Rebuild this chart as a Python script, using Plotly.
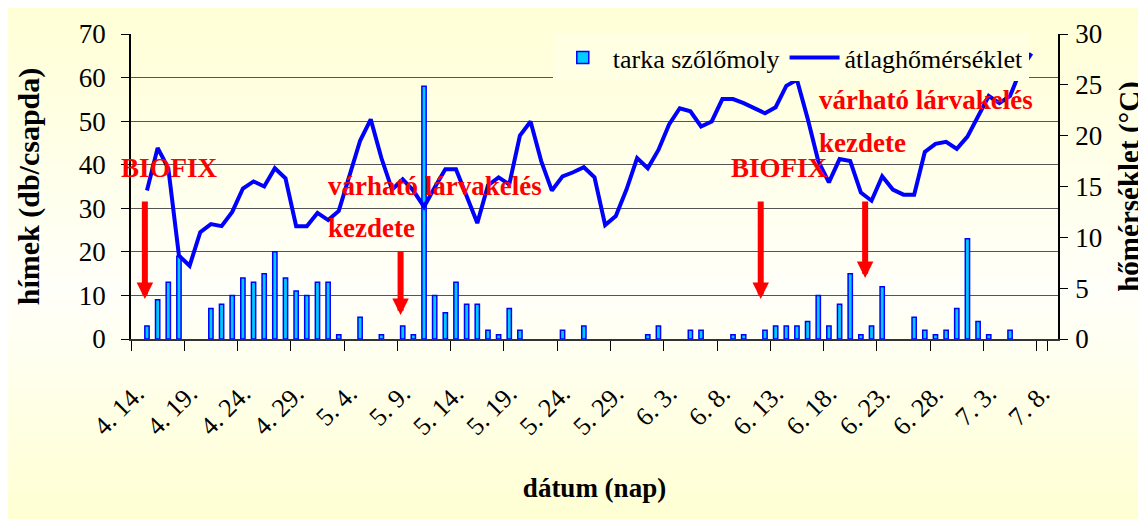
import base64
import struct
import zlib

import plotly.graph_objects as go

# categories: 4.14 ... 7.9 (one per day)
months = [(4, 14, 30), (5, 1, 31), (6, 1, 30), (7, 1, 9)]
dates = [f"{m}. {d}." for m, a, b in months for d in range(a, b + 1)]
tick_labels = dates[::5]

# tarka szőlőmoly (hímek, db/csapda); None = no catch recorded
moths = [
    None, 3, 9, 13, 19, None, None, 7, 8, 10,
    14, 13, 15, 20, 14, 11, 10, 13, 13, 1,
    None, 5, None, 1, None, 3, 1, 58, 10, 6,
    13, 8, 8, 2, 1, 7, 2, None, None, None,
    2, None, 3, None, None, None, None, None, 1, 3,
    None, None, 2, 2, None, None, 1, 1, None, 2,
    3, 3, 3, 4, 10, 3, 8, 15, 1, 3,
    12, None, None, 5, 2, 1, 2, 7, 23, 4,
    1, None, 2, None, None, None, None,
]

# átlaghőmérséklet (°C)
temps = [
    None, 14.6, 18.8, 16.8, 8.2, 7.2, 10.5, 11.3, 11.1, 12.5,
    14.8, 15.5, 15.0, 16.8, 15.8, 11.1, 11.1, 12.4, 11.7, 12.6,
    16.0, 19.5, 21.6, 17.8, 14.7, 15.7, 14.6, 13.0, 14.9, 16.7,
    16.7, 14.0, 11.4, 15.1, 15.9, 15.2, 20.0, 21.4, 17.5, 14.6,
    16.0, 16.4, 16.9, 15.9, 11.2, 12.1, 14.7, 17.8, 16.8, 18.6,
    21.1, 22.7, 22.4, 20.9, 21.4, 23.6, 23.6, 23.2, 22.7, 22.2,
    22.8, 24.9, 25.5, 21.7, 17.5, 15.4, 17.7, 17.5, 14.4, 13.6,
    16.0, 14.7, 14.2, 14.2, 18.4, 19.2, 19.4, 18.7, 19.9, 21.8,
    23.9, 23.2, 23.9, 26.5, 28.1, None, None,
]

# red notes: (text, category index of left edge, y on left axis, extra x shift px)
notes = [
    ("BIOFIX", -0.5, 37.5, -12),
    ("várható lárvakelés", 18.2, 33.2, -4),
    ("kezdete", 18.2, 23.6, -4),
    ("BIOFIX", 56.0, 37.5, -4),
    ("várható lárvakelés", 64.3, 53.1, -4),
    ("kezdete", 64.3, 43.2, -4),
]
# arrows: (category index, tip y on left axis, shaft length px)
arrows = [(0.8, 9.2, 99), (24.8, 5.5, 65), (58.6, 9.2, 99), (68.4, 14.0, 78)]

W, H = 1146, 519
L, R, T, B = 123, 96, 26, 188
FONT = "Liberation Serif"


def gradient_png(stops, n=128):
    rows = b""
    for i in range(n):
        t = i / (n - 1)
        for (t0, c0), (t1, c1) in zip(stops, stops[1:]):
            if t0 <= t <= t1:
                f = (t - t0) / (t1 - t0)
                rgb = [round(a + (b - a) * f) for a, b in zip(c0, c1)]
                break
        rows += b"\x00" + bytes(rgb)

    def chunk(tag, data):
        body = tag + data
        return struct.pack(">I", len(data)) + body + struct.pack(">I", zlib.crc32(body) & 0xFFFFFFFF)

    png = (b"\x89PNG\r\n\x1a\n"
           + chunk(b"IHDR", struct.pack(">IIBBBBB", 1, n, 8, 2, 0, 0, 0))
           + chunk(b"IDAT", zlib.compress(rows))
           + chunk(b"IEND", b""))
    return "data:image/png;base64," + base64.b64encode(png).decode()


bg = gradient_png([(0.0, (255, 255, 214)), (0.55, (255, 255, 250)), (1.0, (255, 255, 210))])

fig = go.Figure()
fig.add_trace(go.Bar(
    x=dates, y=moths, name="tarka szőlőmoly", width=0.4,
    marker=dict(color="#00CCFF", line=dict(color="#0000FF", width=1.5)),
))
fig.add_trace(go.Scatter(
    x=dates, y=temps, name="átlaghőmérséklet", yaxis="y2", mode="lines",
    line=dict(color="#0000FF", width=4), connectgaps=False,
))

for text, xi, yv, shift in notes:
    fig.add_annotation(x=xi, y=yv, xref="x", yref="y", text=f"<b>{text}</b>",
                       showarrow=False, xanchor="left", yanchor="middle",
                       xshift=shift, yshift=8,
                       font=dict(family=FONT, size=27, color="#FF0000"))
for xi, yv, length in arrows:
    fig.add_annotation(x=xi, y=yv, xref="x", yref="y", text="", showarrow=True,
                       ax=0, ay=-length, arrowhead=2, arrowsize=0.55, arrowwidth=6,
                       arrowcolor="#FF0000")

pw = W - L - R
ph = H - T - B
fig.add_layout_image(dict(source=bg, xref="paper", yref="paper",
                          x=-L / pw, y=1 + T / ph, sizex=W / pw, sizey=H / ph,
                          xanchor="left", yanchor="top", sizing="stretch", layer="below"))

fig.update_layout(
    width=W, height=H,
    margin=dict(l=L, r=R, t=T, b=B),
    paper_bgcolor="#FFFFF4", plot_bgcolor="rgba(0,0,0,0)",
    font=dict(family=FONT, size=26, color="black"),
    showlegend=True,
    legend=dict(orientation="h", x=0.455, y=1.0, xanchor="left", yanchor="top",
                bgcolor="#FFFFE4", font=dict(family=FONT, size=26), itemwidth=50,
                tracegroupgap=0),
    bargap=0.6,
    xaxis=dict(
        type="category", categoryorder="array", categoryarray=dates,
        range=[-0.5, len(dates) - 0.5], automargin=False,
        tickmode="array", tickvals=tick_labels, ticktext=tick_labels,
        tickson="boundaries", ticks="outside", ticklen=10, tickcolor="black",
        tickangle=-45, ticklabelstandoff=27,
        showgrid=False, showline=True, linecolor="#333", linewidth=2,
        tickfont=dict(family=FONT, size=26),
        title=dict(text="<b>dátum (nap)</b>", font=dict(family=FONT, size=27), standoff=38),
    ),
    yaxis=dict(
        range=[0, 70], dtick=10, ticks="outside", ticklen=8, tickcolor="black",
        showline=True, linecolor="black", linewidth=1.5, automargin=False,
        showgrid=True, gridcolor="#555", gridwidth=1, zeroline=False,
        ticklabelstandoff=10,
        tickfont=dict(family=FONT, size=27),
        title=dict(text="<b>hímek (db/csapda)</b>", font=dict(family=FONT, size=30), standoff=30),
    ),
    yaxis2=dict(
        range=[0, 30], dtick=5, overlaying="y", side="right", automargin=False,
        ticks="outside", ticklen=8, tickcolor="black",
        showline=True, linecolor="black", linewidth=1.5,
        showgrid=False, zeroline=False, ticklabelstandoff=2,
        tickfont=dict(family=FONT, size=27),
        title=dict(text="<b>hőmérséklet (°C)</b>", font=dict(family=FONT, size=29), standoff=18),
    ),
)

fig.write_html("out.html")
